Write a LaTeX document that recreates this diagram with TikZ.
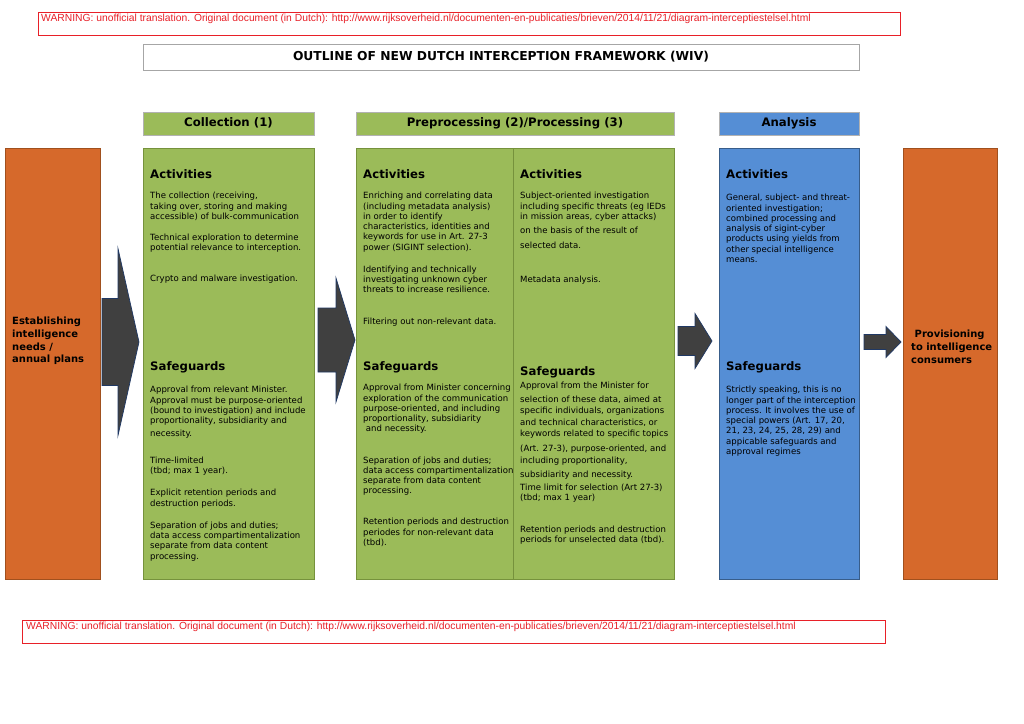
\documentclass[tikz,border=0pt]{standalone}
\usepackage{fontspec}
\setmainfont{DejaVu Sans}
\newfontfamily\warnfont{Liberation Sans}
\usetikzlibrary{fit,calc}
\definecolor{wivgreen}{RGB}{155,187,89}
\definecolor{wivgreenline}{RGB}{118,146,60}
\definecolor{wivblue}{RGB}{85,142,213}
\definecolor{wivblueline}{RGB}{56,93,138}
\definecolor{wivorange}{RGB}{214,105,43}
\definecolor{wivorangeline}{RGB}{160,80,30}
\definecolor{wivarrow}{RGB}{64,64,64}
\definecolor{wivarrowline}{RGB}{31,56,100}
\definecolor{wivred}{RGB}{232,32,40}

\newcommand{\blockarrow}[5]{%
  \draw[blockarr] ($(#1)+(0,-#3)$) -- ($(#2)+(-#5,-#3)$) -- ($(#2)+(-#5,-#4)$) -- (#2)
    -- ($(#2)+(-#5,#4)$) -- ($(#2)+(-#5,#3)$) -- ($(#1)+(0,#3)$) -- cycle;}

\begin{document}
\begin{tikzpicture}[x=0.3mm, y=-0.3mm, every node/.style={inner sep=0pt},
  warnbox/.style={draw=wivred, line width=0.6pt},
  warntext/.style={anchor=north west, text=wivred, font=\warnfont\fontsize{8.8}{10}\selectfont},
  titlebox/.style={draw=black!35, line width=0.6pt},
  titletext/.style={text height=7.7pt, text depth=2pt, font=\bfseries\fontsize{10.5}{12}\selectfont},
  headgreen/.style={draw=black!30, fill=wivgreen, line width=0.6pt},
  headblue/.style={draw=black!30, fill=wivblue, line width=0.6pt},
  headtext/.style={text height=7.3pt, text depth=1.9pt, font=\bfseries\fontsize{10}{12}\selectfont},
  greenbox/.style={draw=wivgreenline, fill=wivgreen, line width=0.6pt},
  bluebox/.style={draw=wivblueline, fill=wivblue, line width=0.6pt},
  orangebox/.style={draw=wivorangeline, fill=wivorange, line width=0.6pt},
  heading/.style={anchor=north west, font=\bfseries\fontsize{10}{12}\selectfont},
  body/.style={anchor=north west, align=left, font=\fontsize{7.3}{8.8}\selectfont},
  sidetext/.style={anchor=north west, align=left, font=\bfseries\fontsize{8.5}{10.8}\selectfont},
  blockarr/.style={draw=wivarrowline, fill=wivarrow, line width=0.6pt, line join=miter}]
  \useasboundingbox (0,0) rectangle (1024,724);
  \fill[white] (0,0) rectangle (1024,724);

  \node[warnbox, fit={(38,12) (900,35)}] (warntop) {};
  \node[warntext] (warntoptxt) at (41,14) {WARNING: unofficial translation. Original document (in Dutch): http://www.rijksoverheid.nl/documenten-en-publicaties/brieven/2014/11/21/diagram-interceptiestelsel.html};
  \node[titlebox, fit={(143,44) (859,70)}] (title) {};
  \node[titletext] (titletxt) at (title) {OUTLINE OF NEW DUTCH INTERCEPTION FRAMEWORK (WIV)};

  \node[headgreen, fit={(143,112) (314,135)}] (collhead) {};
  \node[headgreen, fit={(356,112) (674,135)}] (prochead) {};
  \node[headblue, fit={(719,112) (859,135)}] (anahead) {};
  \node[headtext] (collheadtxt) at (collhead) {Collection (1)};
  \node[headtext] (procheadtxt) at (prochead) {Preprocessing (2)/Processing (3)};
  \node[headtext] (anaheadtxt) at (anahead) {Analysis};

  \node[orangebox, fit={(5,148) (100,579)}] (needs) {};
  \node[greenbox, fit={(143,148) (314,579)}] (coll) {};
  \node[greenbox, fit={(356,148) (513,579)}] (prep) {};
  \node[greenbox, fit={(513,148) (674,579)}] (proc) {};
  \node[bluebox, fit={(719,148) (859,579)}] (ana) {};
  \node[orangebox, fit={(903,148) (997,579)}] (consumers) {};

  \node[sidetext] (needstxt) at (12,317) {Establishing\\ intelligence\\ needs /\\ annual plans};
  \node[sidetext] (consumerstxt) at (911,330) {\ Provisioning\\ to intelligence\\ consumers};

  \node[heading] (collact) at (150,169) {Activities};
  \node[body] (collacttxt) at (150,192) {The collection (receiving,\\ taking over, storing and making\\ accessible) of bulk-communication\\[9pt] Technical exploration to determine\\ potential relevance to interception.\\[17.7pt] Crypto and malware investigation.};
  \node[heading] (collsafe) at (150,361) {Safeguards};
  \node[body] (collsafetxt) at (150,386) {Approval from relevant Minister.\\ Approval must be purpose-oriented\\ (bound to investigation) and include\\ proportionality, subsidiarity and\\[2.3pt] necessity.\\[14.2pt] Time-limited\\ (tbd; max 1 year).\\[10pt] Explicit retention periods and\\ destruction periods.\\[10pt] Separation of jobs and duties;\\ data access compartimentalization\\ separate from data content\\ processing.};

  \node[heading] (prepact) at (363,169) {Activities};
  \node[body] (prepacttxt) at (363,192) {Enriching and correlating data\\ (including metadata analysis)\\ in order to identify\\ characteristics, identities and\\ keywords for use in Art. 27-3\\ power (SIGINT selection).\\[10pt] Identifying and technically\\ investigating unknown cyber\\ threats to increase resilience.\\[18.5pt] Filtering out non-relevant data.};
  \node[heading] (prepsafe) at (363,361) {Safeguards};
  \node[body] (prepsafetxt) at (363,384) {Approval from Minister concerning\\ exploration of the communication\\ purpose-oriented, and including\\ proportionality, subsidiarity\\ \ and necessity.\\[17.7pt] Separation of jobs and duties;\\ data access compartimentalization\\ separate from data content\\ processing.\\[17.7pt] Retention periods and destruction\\ periodes for non-relevant data\\ (tbd).};

  \node[heading] (procact) at (520,169) {Activities};
  \node[body] (procacttxt) at (520,192) {Subject-oriented investigation\\ including specific threats (eg IEDs\\ in mission areas, cyber attacks)\\[3.2pt] on the basis of the result of\\[4pt] selected data.\\[20pt] Metadata analysis.};
  \node[heading] (procsafe) at (520,366) {Safeguards};
  \node[body] (procsafetxt) at (520,382) {Approval from the Minister for\\[3.2pt] selection of these data, aimed at\\[0.6pt] specific individuals, organizations\\[1.5pt] and technical characteristics, or\\[0.6pt] keywords related to specific topics\\[3.5pt] (Art. 27-3), purpose-oriented, and\\[1.5pt] including proportionality,\\[3pt] subsidiarity and necessity.\\[2.5pt] Time limit for selection (Art 27-3)\\ (tbd; max 1 year)\\[18pt] Retention periods and destruction\\ periods for unselected data (tbd).};

  \node[heading] (anaact) at (726,169) {Activities};
  \node[body] (anaacttxt) at (726,194) {General, subject- and threat-\\ oriented investigation;\\ combined processing and\\ analysis of sigint-cyber\\ products using yields from\\ other special intelligence\\ means.};
  \node[heading] (anasafe) at (726,361) {Safeguards};
  \node[body] (anasafetxt) at (726,386) {Strictly speaking, this is no\\ longer part of the interception\\ process. It involves the use of\\ special powers (Art. 17, 20,\\ 21, 23, 24, 25, 28, 29) and\\ appicable safeguards and\\ approval regimes};

  \coordinate (arr1tail) at (102,342);
  \coordinate (arr1tip) at (139,342);
  \coordinate (arr2tail) at (318,340);
  \coordinate (arr2tip) at (355,340);
  \coordinate (arr3tail) at (678,341);
  \coordinate (arr3tip) at (712,341);
  \coordinate (arr4tail) at (864,342);
  \coordinate (arr4tip) at (901,342);
  \blockarrow{arr1tail}{arr1tip}{43.5}{93.5}{21}
  \blockarrow{arr2tail}{arr2tip}{32}{62}{19}
  \blockarrow{arr3tail}{arr3tip}{14.5}{27.5}{17}
  \blockarrow{arr4tail}{arr4tip}{7.5}{15.5}{15}

  \node[warnbox, fit={(22,620) (885,643)}] (warnbot) {};
  \node[warntext] (warnbottxt) at (26,622) {WARNING: unofficial translation. Original document (in Dutch): http://www.rijksoverheid.nl/documenten-en-publicaties/brieven/2014/11/21/diagram-interceptiestelsel.html};
\end{tikzpicture}
\end{document}
